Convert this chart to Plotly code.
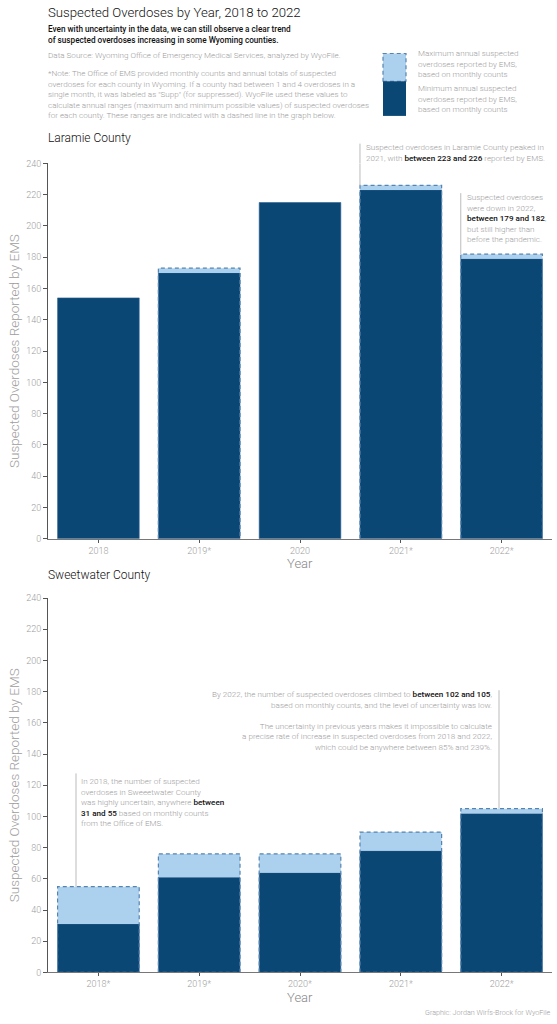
import plotly.graph_objects as go

# ---- data ----
years = ["2018", "2019", "2020", "2021", "2022"]
laramie_labels = ["2018", "2019*", "2020", "2021*", "2022*"]
laramie_min = [154, 170, 215, 223, 179]
laramie_max = [154, 173, 215, 226, 182]
sweet_labels = ["2018*", "2019*", "2020*", "2021*", "2022*"]
sweet_min = [31, 61, 64, 78, 102]
sweet_max = [55, 76, 76, 90, 105]
y_ticks = list(range(0, 241, 20))

DARK = "#0b4775"
LIGHT = "#acd1ef"
DASH = "#5584b0"
GRAY = "#9d9d9d"
FONT = "Roboto"
W, H = 557, 1024
L, R = 48, 5
BW = 0.81
FS = 8.1

def px(x):
    return (x - L) / (W - L - R)

def py(y):
    return 1 - y / H

fig = go.Figure()
xs = list(range(len(years)))

def add_panel(mins, maxs, xa, ya):
    fig.add_trace(go.Bar(x=xs, y=mins, width=BW, marker=dict(color=DARK, line=dict(color="#2e6290", width=0.6)),
                         xaxis=xa, yaxis=ya, showlegend=False, hoverinfo="skip"))
    diffs = [b - a for a, b in zip(mins, maxs)]
    fig.add_trace(go.Bar(x=xs, y=diffs, base=mins, width=BW, marker=dict(color=LIGHT, line=dict(width=0)),
                         xaxis=xa, yaxis=ya, showlegend=False, hoverinfo="skip"))
    ox, oy = [], []
    for i, (a, b) in enumerate(zip(mins, maxs)):
        if b > a:
            h = BW / 2
            ox += [i - h, i - h, i + h, i + h, i - h, None]
            oy += [0, b, b, 0, 0, None]
    if ox:
        fig.add_trace(go.Scatter(x=ox, y=oy, mode="lines", line=dict(color=DASH, width=1.2, dash="4px,3px"),
                                 xaxis=xa, yaxis=ya, showlegend=False, hoverinfo="skip"))

add_panel(laramie_min, laramie_max, "x", "y")
add_panel(sweet_min, sweet_max, "x2", "y2")

axis_common_y = dict(range=[0, 240], tickvals=y_ticks, ticks="outside", ticklen=4, tickcolor="#555",
                     showline=True, linecolor="#555", linewidth=1, showgrid=False, zeroline=False,
                     tickfont=dict(family=FONT, size=9, color=GRAY, weight=300),
                     title=dict(text="Suspected Overdoses Reported by EMS",
                                font=dict(family=FONT, size=13.5, color=GRAY, weight=300), standoff=3))
axis_common_x = dict(range=[-0.5, 4.5], tickvals=xs, ticks="outside", ticklen=3, tickcolor="#555",
                     showline=True, linecolor="#777", linewidth=1, showgrid=False, zeroline=False,
                     tickfont=dict(family=FONT, size=9, color=GRAY, weight=300))

fig.update_layout(
    width=W, height=H, margin=dict(l=L, r=R, t=0, b=0),
    plot_bgcolor="white", paper_bgcolor="white", barmode="overlay", bargap=0.19,
    xaxis=dict(axis_common_x, domain=[0, 1], anchor="y", ticktext=laramie_labels),
    yaxis=dict(axis_common_y, domain=[py(539), py(160)], anchor="x"),
    xaxis2=dict(axis_common_x, domain=[0, 1], anchor="y2", ticktext=sweet_labels),
    yaxis2=dict(axis_common_y, domain=[py(977), py(599)], anchor="x2"),
    font=dict(family=FONT),
)

def note(text, x, y, size=FS, color=GRAY, align="left", xanchor="left", weight=300, yanchor="top"):
    fig.add_annotation(text=text, x=px(x), y=py(y), xref="paper", yref="paper", showarrow=False,
                       xanchor=xanchor, yanchor=yanchor, align=align,
                       font=dict(family=FONT, size=size, color=color, weight=weight))

B = "<span style='font-weight:500;color:#111'>"
E = "</span>"

note("Suspected Overdoses by Year, 2018 to 2022", 46, -2, size=13.2, color="#111")
note("Even with uncertainty in the data, we can still observe a clear trend<br>of suspected overdoses increasing in some Wyoming counties.",
     46, 17, size=8.2, color="#111", weight=500)
note("Data Source: Wyoming Office of Emergency Medical Services, analyzed by WyoFile.", 46, 43, size=FS)
note("*Note: The Office of EMS provided monthly counts and annual totals of suspected<br>"
     "overdoses for each county in Wyoming. If a county had between 1 and 4 overdoses in a<br>"
     "single month, it was labeled as \"Supp\" (for suppressed). WyoFile used these values to<br>"
     "calculate annual ranges (maximum and minimum possible values) of suspected overdoses<br>"
     "for each county. These ranges are indicated with a dashed line in the graph below.",
     46, 62, size=FS)

# legend swatches
fig.add_shape(type="rect", xref="paper", yref="paper", x0=px(383), x1=px(406), y0=py(77), y1=py(49),
              fillcolor=LIGHT, line=dict(color=DASH, width=1.2, dash="4px,3px"))
fig.add_shape(type="rect", xref="paper", yref="paper", x0=px(383), x1=px(406), y0=py(112), y1=py(77),
              fillcolor=DARK, line=dict(width=0))
note("Maximum annual suspected<br>overdoses reported by EMS,<br>based on monthly counts", 416, 41, size=FS)
note("Minimum annual suspected<br>overdoses reported by EMS,<br>based on monthly counts", 416, 77, size=FS)

note("Laramie County", 46, 125, size=12, color="#111")
note("Sweetwater County", 46, 567, size=12, color="#111")

# x-axis titles
note("Year", (L + W - R) / 2, 564, size=13, color="#888", xanchor="center", yanchor="middle")
note("Year", (L + W - R) / 2, 1002, size=13, color="#888", xanchor="center", yanchor="middle")

# Laramie annotations
fig.add_shape(type="line", xref="x", yref="paper", x0=3 - BW / 2, x1=3 - BW / 2, y0=py(140), y1=py(160),
              line=dict(color="#bbb", width=1))
fig.add_shape(type="line", xref="x", yref="y", x0=3 - BW / 2, x1=3 - BW / 2, y0=laramie_max[3], y1=240,
              line=dict(color="#bbb", width=1))
note("Suspected overdoses in Laramie County peaked in<br>2021, with " + B + "between 223 and 226" + E + " reported by EMS.",
     364, 136, size=FS)
fig.add_shape(type="line", xref="x", yref="paper", x0=4 - BW / 2, x1=4 - BW / 2, y0=py(539 - laramie_max[4] * 379 / 240), y1=py(190),
              line=dict(color="#bbb", width=1))
note("Suspected overdoses<br>were down in 2022,<br>" + B + "between 179 and 182" + E + ",<br>but still higher than<br>before the pandemic.",
     465, 187, size=FS)

# Sweetwater annotations
fig.add_shape(type="line", xref="paper", yref="paper", x0=px(76), x1=px(76), y0=py(776), y1=py(977 - sweet_max[0] * 378 / 240),
              line=dict(color="#bbb", width=1))
note("In 2018, the number of suspected<br>overdoses in Sweeetwater County<br>was highly uncertain, anywhere " + B + "between<br>31 and 55" + E + " based on monthly counts<br>from the Office of EMS.",
     79, 777, size=FS)
fig.add_shape(type="line", xref="paper", yref="paper", x0=px(499), x1=px(499), y0=py(692), y1=py(977 - sweet_max[4] * 378 / 240),
              line=dict(color="#bbb", width=1))
note("By 2022, the number of suspected overdoses climbed to " + B + "between 102 and 105" + E + ",<br>based on monthly counts, and the level of uncertainty was low.<br><br>"
     "The uncertainty in previous years makes it impossible to calculate<br>a precise rate of increase in suspected overdoses from 2018 and 2022,<br>which could be anywhere between 85% and 239%.",
     494, 689, size=FS, align="right", xanchor="right")

note("Graphic: Jordan Wirfs-Brock for WyoFile", 553, 1011, size=7.2, align="right", xanchor="right")

fig.write_html("out.html")
